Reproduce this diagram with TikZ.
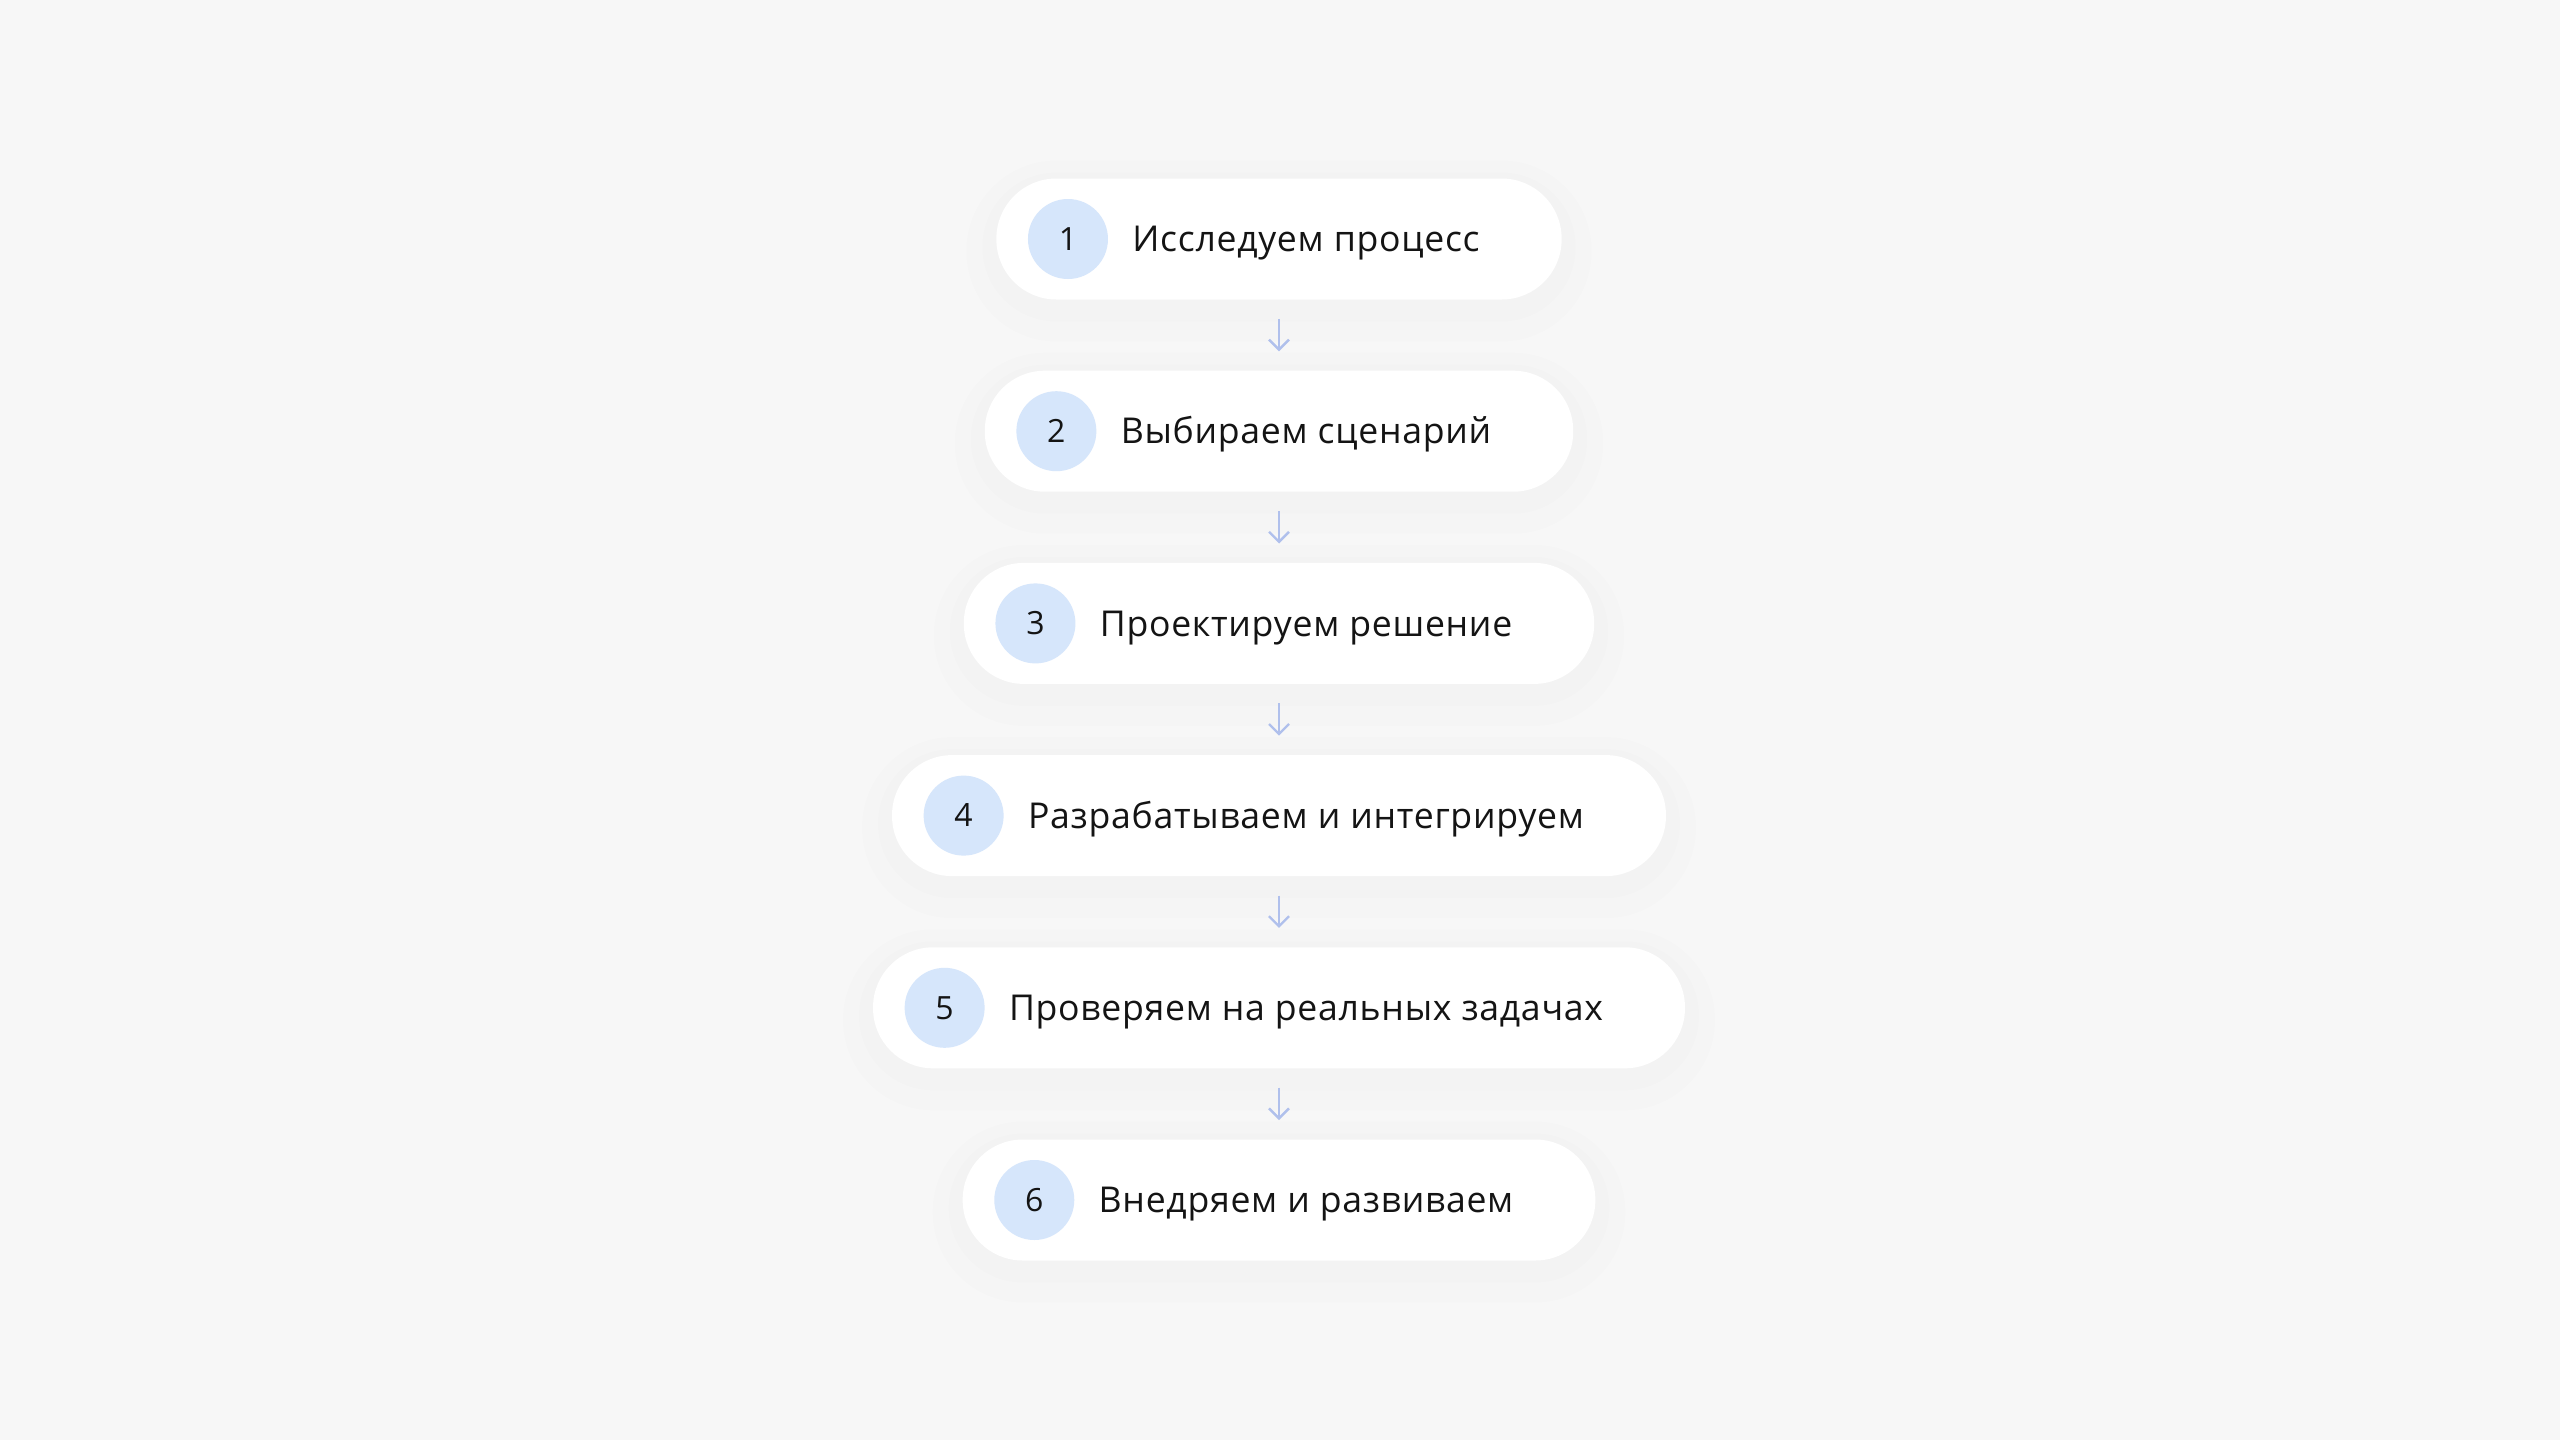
\documentclass[tikz,border=0pt]{standalone}
\usepackage{fontspec}
\setmainfont{Open Sans}
\usetikzlibrary{arrows.meta,positioning}
\definecolor{pagegray}{RGB}{247,247,247}
\definecolor{badgeblue}{RGB}{214,230,251}
\definecolor{arrowblue}{RGB}{176,192,236}
\definecolor{inkblack}{RGB}{20,20,20}

\begin{document}
\begin{tikzpicture}[
    x=0.5pt, y=-0.5pt,
    node distance=35.2pt,
    pill/.style={rectangle, fill=white, rounded corners=30pt,
                 minimum height=60.5pt, inner xsep=41pt, inner ysep=0pt,
                 text height=12.6pt, text depth=0pt, text=inkblack,
                 font=\addfontfeatures{LetterSpace=2.0}\fontsize{17.8}{21}\selectfont,
                 execute at begin node={\hspace*{27pt}},
                 preaction={draw=black, opacity=0.006, line width=30pt,
                            transform canvas={yshift=-6pt}},
                 preaction={draw=black, opacity=0.008, line width=14pt,
                            transform canvas={yshift=-4pt}}},
    badge/.style={circle, fill=badgeblue, minimum size=40pt, inner sep=0pt,
                  text height=11.3pt, text depth=0pt, text=inkblack,
                  font=\fontsize{16}{19}\selectfont},
    arr/.style={-{Straight Barb[length=5pt, width=10pt]}, line width=1.2pt,
                arrowblue, shorten <=9.5pt, shorten >=9.5pt}
]
% Background
\fill[pagegray] (0,0) rectangle (2560,1440);

% Steps
\node[pill] (explore) at (1279,239) {Исследуем процесс};
\node[pill, below=of explore] (choose) {Выбираем сценарий};
\node[pill, below=of choose] (design) {Проектируем решение};
\node[pill, below=of design] (build) {Разрабатываем и интегрируем};
\node[pill, below=of build] (test) {Проверяем на реальных задачах};
\node[pill, below=of test] (deploy) {Внедряем и развиваем};

% Numbers
\node[badge] (n1) at ([xshift=36pt]explore.west) {1};
\node[badge] (n2) at ([xshift=36pt]choose.west) {2};
\node[badge] (n3) at ([xshift=36pt]design.west) {3};
\node[badge] (n4) at ([xshift=36pt]build.west) {4};
\node[badge] (n5) at ([xshift=36pt]test.west) {5};
\node[badge] (n6) at ([xshift=36pt]deploy.west) {6};

% Arrows
\draw[arr] (explore) -- (choose);
\draw[arr] (choose) -- (design);
\draw[arr] (design) -- (build);
\draw[arr] (build) -- (test);
\draw[arr] (test) -- (deploy);
\end{tikzpicture}
\end{document}
